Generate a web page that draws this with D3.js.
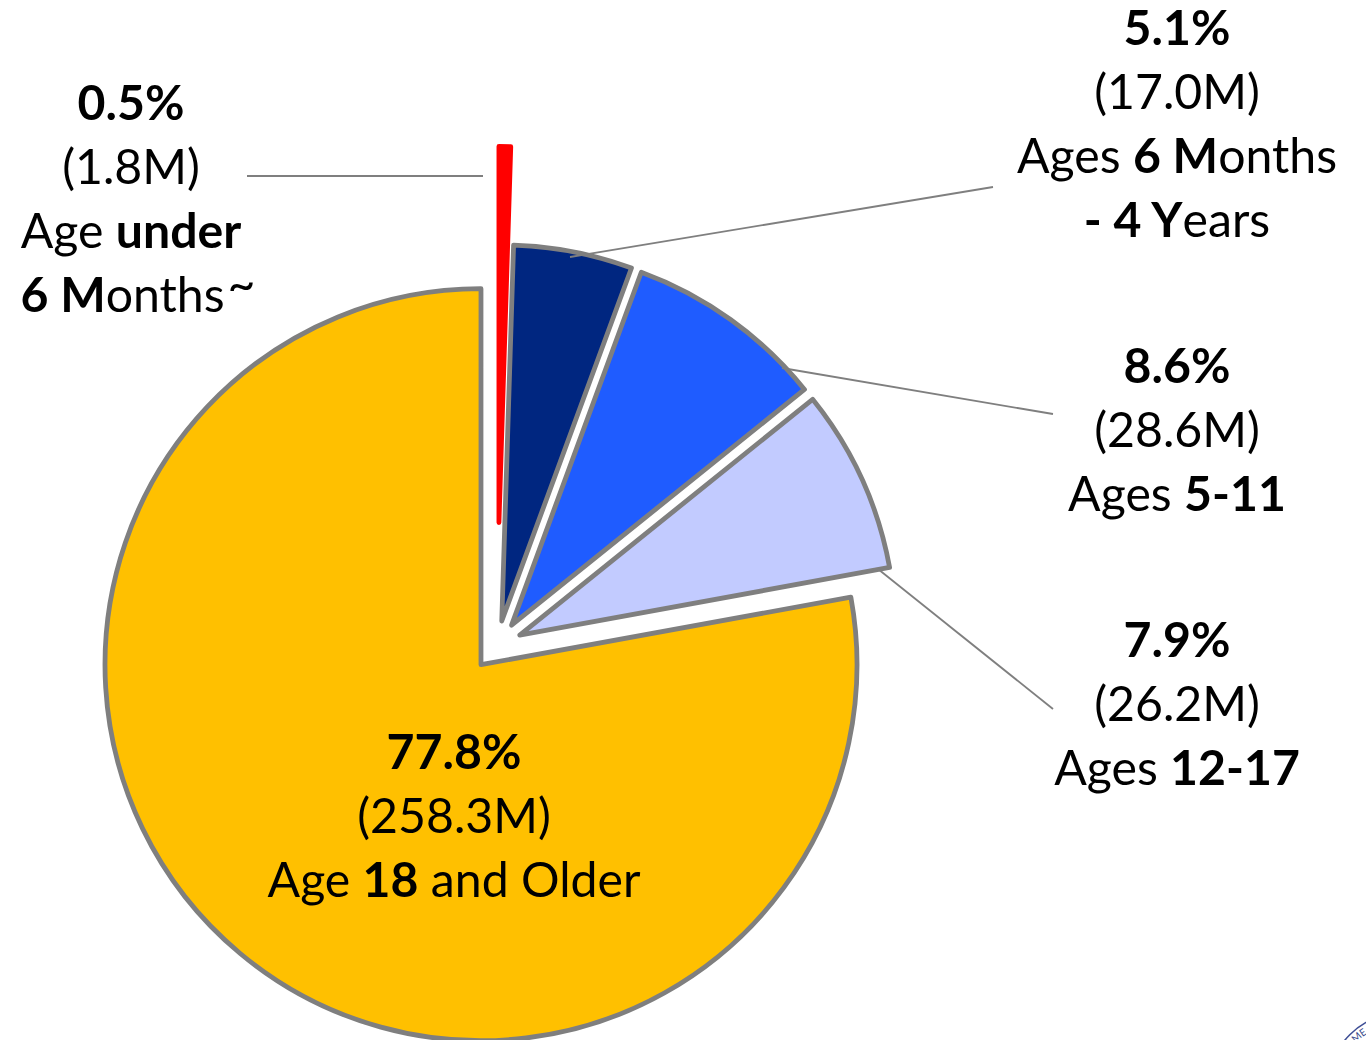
<!DOCTYPE html>
<html>
<head>
<meta charset="utf-8">
<script src="https://cdnjs.cloudflare.com/ajax/libs/d3/7.8.5/d3.min.js"></script>
<style>
    html, body {margin: 0; padding: 0; background: #fff; overflow: hidden;}
    text {font-family: Lato, "Open Sans", sans-serif; fill: #000;}
</style>
</head>
<body>
<div id="chart"></div>
<script>
// share of population, in drawing order clockwise from 12 o'clock
var groups = ["under6m", "6m-4y", "5-11", "12-17", "18+"];
var shares = [0.5, 5.1, 8.6, 7.9, 77.8];
var millions = ["1.8M", "17.0M", "28.6M", "26.2M", "258.3M"];
var fills = ["#ff0000", "#002680", "#1f5cff", "#c2cbff", "#ffc000"];
var strokes = ["#ff0000", "#7f7f7f", "#7f7f7f", "#7f7f7f", "#7f7f7f"];
var explode = [123, 25, 25, 25, 25];

// the age line(s) of each label, [text, bold]
var ageLines = [
    [[["Age ", 0], ["under", 1]], [["6 M", 1], ["onths", 0], ["~", 0]]],
    [[["Ages ", 0], ["6 M", 1], ["onths", 0]], [["- 4 Y", 1], ["ears", 0]]],
    [[["Ages ", 0], ["5-11", 1]]],
    [[["Ages ", 0], ["12-17", 1]]],
    [[["Age ", 0], ["18", 1], [" and Older", 0]]]
];

var width = 1366,
    height = 1040,
    cx = 497,
    cy = 645.5,
    radius = 376,
    lineHeight = 64,
    fontSize = 48.2;

// where each label block sits: centre x, baseline of first line
var labelPos = [[131, 120], [1177, 45], [1177, 383], [1177, 657], [454, 769]];
var leaders = [
    [[247, 176], [483, 176]],
    [[570, 257], [993, 187]],
    [[782, 368], [1053, 414]],
    [[878, 569], [1053, 709]]
];

var svg = d3.select("#chart")
    .append("svg")
    .attr("width", width)
    .attr("height", height)
    .style("display", "block");

var pie = d3.pie().sort(null).value(d => d);
var arc = d3.arc().innerRadius(0).outerRadius(radius);
var slices = pie(shares);

// big slice goes first so the others sit on top of it
var order = d3.range(slices.length).reverse();

svg.append("g")
    .selectAll("path")
    .data(order)
    .enter()
    .append("path")
    .attr("class", i => "slice s" + groups[i])
    .attr("d", i => arc(slices[i]))
    .attr("transform", i => {
        var mid = (slices[i].startAngle + slices[i].endAngle) / 2;
        var x = cx + explode[i] * Math.sin(mid);
        var y = cy - explode[i] * Math.cos(mid);
        return `translate(${x},${y})`;
    })
    .style("fill", i => fills[i])
    .style("stroke", i => strokes[i])
    .style("stroke-width", 4.8)
    .style("stroke-linejoin", "round");

// leader lines
svg.append("g")
    .selectAll("line")
    .data(leaders)
    .enter()
    .append("line")
    .attr("x1", d => d[0][0])
    .attr("y1", d => d[0][1])
    .attr("x2", d => d[1][0])
    .attr("y2", d => d[1][1])
    .style("stroke", "#7f7f7f")
    .style("stroke-width", 1.8);

// labels
var labels = svg.append("g")
    .selectAll("text")
    .data(shares)
    .enter()
    .append("text")
    .attr("text-anchor", "middle")
    .attr("font-size", fontSize)
    .attr("transform", (d, i) => `translate(${labelPos[i][0]},${labelPos[i][1]})`);

labels.append("tspan")
    .attr("x", 0)
    .attr("y", 0)
    .attr("font-weight", "bold")
    .text(d => d.toFixed(1) + "%");

labels.append("tspan")
    .attr("x", 0)
    .attr("y", lineHeight)
    .text((d, i) => "(" + millions[i] + ")");

labels.each(function (d, i) {
    var label = d3.select(this);
    ageLines[i].forEach((runs, n) => {
        var hasTilde = runs.some(run => run[0] === "~");
        runs.forEach((run, r) => {
            var span = label.append("tspan")
                .attr("font-weight", run[1] ? "bold" : "normal")
                .style("white-space", "pre")
                .text(run[0]);
            if (r === 0) span.attr("x", hasTilde ? 7 : 0).attr("y", lineHeight * (n + 2));
            // the tilde sits high in the reference
            if (run[0] === "~") span.attr("dy", -11).attr("dx", 3);
        });
    });
});

// corner of the seal that is cut off by the page edge
var seal = svg.append("g").attr("transform", "translate(1400,1085)");
seal.append("circle")
    .attr("r", 71)
    .style("fill", "none")
    .style("stroke", "#3f4f96")
    .style("stroke-width", 1.6);
seal.append("path")
    .attr("id", "sealArc")
    .attr("d", "M-61,0A61,61 0 0 1 0,-61")
    .style("fill", "none");
seal.append("text")
    .attr("font-size", 10)
    .style("fill", "#3a4a8c")
    .append("textPath")
    .attr("href", "#sealArc")
    .attr("startOffset", "48%")
    .text("ME");
</script>
</body>
</html>
